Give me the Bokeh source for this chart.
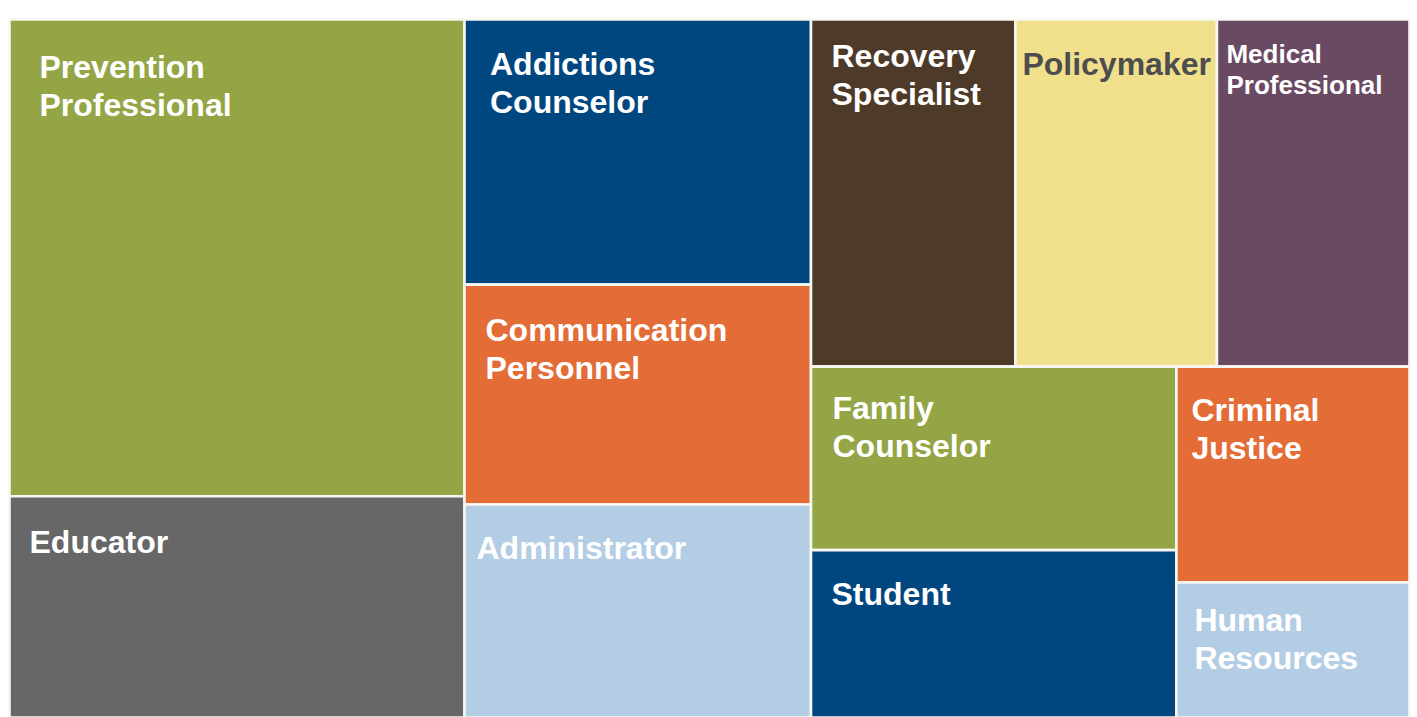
from bokeh.plotting import figure
from bokeh.models import Range1d, ColumnDataSource
from bokeh.core.properties import value
from bokeh.embed import file_html
from bokeh.resources import INLINE

# ---- data ----
roles = ["Prevention Professional", "Educator", "Addictions Counselor",
         "Communication Personnel", "Administrator", "Recovery Specialist",
         "Policymaker", "Medical Professional", "Family Counselor", "Student",
         "Criminal Justice", "Human Resources"]
shares = [22.2, 10.3, 9.4, 7.8, 7.55, 7.26, 7.16, 6.84, 6.86, 6.26, 5.15, 3.22]
labels = ["Prevention\nProfessional", "Educator", "Addictions\nCounselor",
          "Communication\nPersonnel", "Administrator", "Recovery\nSpecialist",
          "Policymaker", "Medical\nProfessional", "Family\nCounselor", "Student",
          "Criminal\nJustice", "Human\nResources"]

# ---- style ----
colors = ["#94A545", "#676767", "#00477F", "#E46C37", "#B3CDE4", "#4E3A28",
          "#F0E08C", "#6A4A62", "#94A545", "#00477F", "#E46C37", "#B3CDE4"]
text_colors = ["white"] * 12
text_colors[6] = "#4D4D4F"
font_px = [32] * 12
font_px[7] = 26
# label offsets in px from the cell's top-left corner: (dx, first baseline dy)
label_dx = [30, 20, 25.5, 21, 12, 20.5, 7, 9.5, 21.5, 20.5, 15, 18]
label_dy = [59, 57.5, 56, 57, 55, 48, 56, 44, 53, 55.5, 55, 49]
BASELINE_FIX = 0.36  # em, renderer places alphabetic baseline lower

# nesting of the treemap (h: split left->right, v: split top->bottom)
structure = ("h", [
    ("v", [0, 1]),
    ("v", [2, 3, 4]),
    ("v", [
        ("h", [5, 6, 7]),
        ("h", [("v", [8, 9]), ("v", [10, 11])]),
    ]),
])

def total(node):
    if isinstance(node, int):
        return shares[node]
    return sum(total(c) for c in node[1])

rects = {}

def layout(node, x0, y0, x1, y1):
    # y0 = top, y1 = bottom (data, top > bottom)
    if isinstance(node, int):
        rects[node] = (x0, y0, x1, y1)
        return
    kind, children = node
    t = total(node)
    if kind == "h":
        x = x0
        for c in children:
            w = (x1 - x0) * total(c) / t
            layout(c, x, y0, x + w, y1)
            x += w
    else:
        y = y0
        for c in children:
            h = (y0 - y1) * total(c) / t
            layout(c, x0, y, x1, y - h)
            y -= h

layout(structure, 0.0, 1.0, 1.0, 0.0)

W_PX, H_PX = 1400.0, 698.0  # pixel size of the treemap area
FIG_W, FIG_H = 1417, 717
X0_PX, Y0_PX = 9.0, 19.0    # treemap top-left inside the figure

left = [rects[i][0] for i in range(12)]
top = [rects[i][1] for i in range(12)]
right = [rects[i][2] for i in range(12)]
bottom = [rects[i][3] for i in range(12)]

p = figure(width=FIG_W, height=FIG_H, output_backend="svg", toolbar_location=None,
           x_range=Range1d(-X0_PX / W_PX, (FIG_W - X0_PX) / W_PX),
           y_range=Range1d(1.0 - (FIG_H - Y0_PX) / H_PX, 1.0 + Y0_PX / H_PX),
           min_border=0, x_axis_location=None, y_axis_location=None)
p.grid.visible = False
p.outline_line_color = None
p.background_fill_color = "white"
p.border_fill_color = "white"

src = ColumnDataSource(dict(left=left, right=right, top=top, bottom=bottom,
                            color=colors, role=roles, share=shares))
p.quad(left="left", right="right", top="top", bottom="bottom", source=src,
       fill_color="color", line_color="#F7F7F2", line_width=2.6)

tx, ty, tt, tc, ts = [], [], [], [], []
for i in range(12):
    lines = labels[i].split("\n")
    spacing = 1.2 * font_px[i] - 0.8
    for j, ln in enumerate(lines):
        dy = label_dy[i] - BASELINE_FIX * font_px[i] + j * spacing
        tx.append(left[i] + label_dx[i] / W_PX)
        ty.append(top[i] - dy / H_PX)
        tt.append(ln)
        tc.append(text_colors[i])
        ts.append(f"{font_px[i]}px")

tsrc = ColumnDataSource(dict(x=tx, y=ty, text=tt, color=tc, size=ts))
p.text(x="x", y="y", text="text", source=tsrc, text_color="color",
       text_font=value("Liberation Sans"), text_font_style="bold",
       text_font_size="size", text_baseline="alphabetic", text_align="left")

open("out.html", "w").write(file_html(p, INLINE))
